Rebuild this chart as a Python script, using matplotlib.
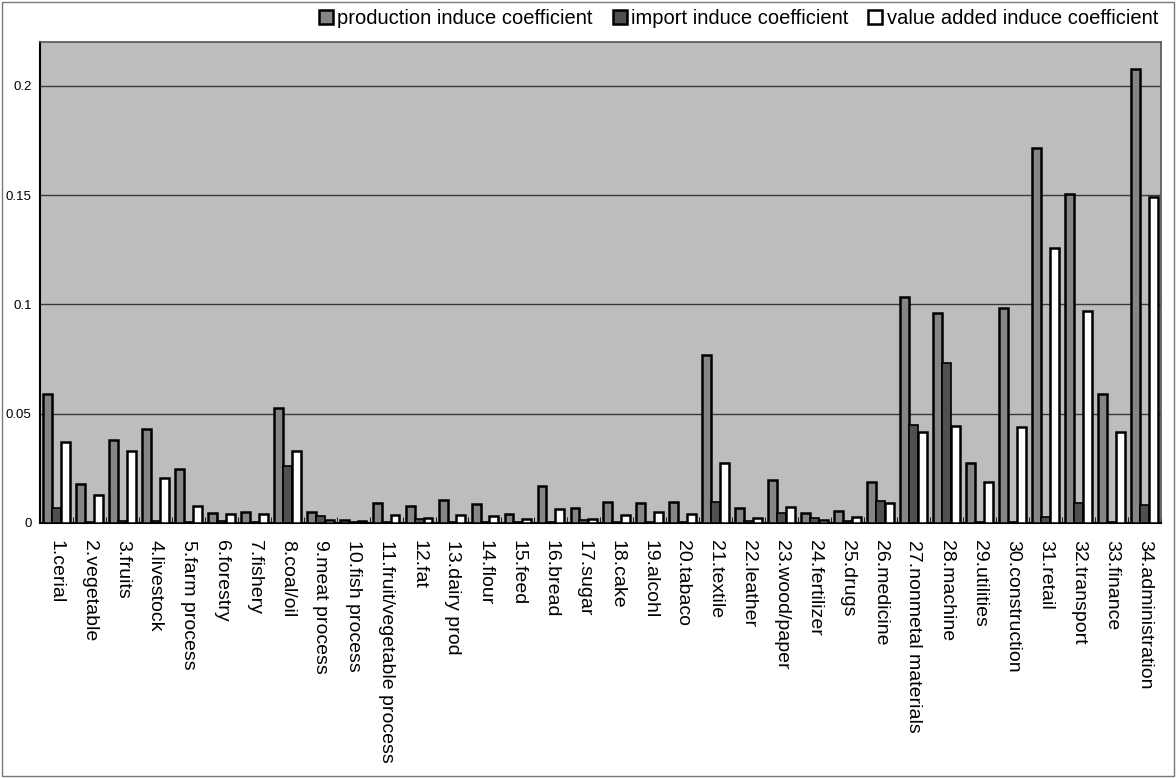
import numpy as np
import matplotlib
matplotlib.use("Agg")
import matplotlib.pyplot as plt
from matplotlib.patches import Rectangle, Patch

plt.rcParams['font.family'] = ['Liberation Sans', 'DejaVu Sans']

# industries and induce coefficients per sector
sectors = ["1.cerial", "2.vegetable", "3.fruits", "4.livestock", "5.farm process",
           "6.forestry", "7.fishery", "8.coal/oil", "9.meat process", "10.fish process",
           "11.fruit/vegetable process", "12.fat", "13.dairy prod", "14.flour", "15.feed",
           "16.bread", "17.sugar", "18.cake", "19.alcohl", "20.tabaco", "21.textile",
           "22.leather", "23.wood/paper", "24.fertilizer", "25.drugs", "26.medicine",
           "27.nonmetal materials", "28.machine", "29.utilities", "30.construction",
           "31.retail", "32.transport", "33.finance", "34.administration"]

production = [0.059, 0.018, 0.038, 0.043, 0.0247, 0.0047, 0.005, 0.0525, 0.005, 0.0012,
              0.009, 0.0079, 0.0105, 0.0087, 0.004, 0.0168, 0.007, 0.0095, 0.0091, 0.0096,
              0.0767, 0.0068, 0.0196, 0.0047, 0.0054, 0.0187, 0.1035, 0.096, 0.0273, 0.0982,
              0.1717, 0.1507, 0.059, 0.2075]
imports = [0.0068, 0.0003, 0.0008, 0.0008, 0.0004, 0.001, 0.0006, 0.026, 0.003, 0.0005,
           0.0005, 0.002, 0.0005, 0.0005, 0.0005, 0.0005, 0.0015, 0.0006, 0.0006, 0.0006,
           0.0095, 0.001, 0.0045, 0.0025, 0.001, 0.0101, 0.045, 0.073, 0.0004, 0.0004,
           0.0027, 0.0091, 0.0004, 0.0082]
value_added = [0.037, 0.013, 0.033, 0.0205, 0.0078, 0.0042, 0.004, 0.033, 0.0015, 0.0008,
               0.0037, 0.0022, 0.0037, 0.003, 0.0016, 0.0065, 0.002, 0.0037, 0.0048, 0.0042,
               0.0273, 0.0023, 0.0073, 0.0015, 0.0027, 0.009, 0.0415, 0.0443, 0.0188, 0.0438,
               0.1256, 0.0968, 0.0415, 0.1489]

yticks = [0, 0.05, 0.1, 0.15, 0.2]
ytick_labels = ["0", "0.05", "0.1", "0.15", "0.2"]

x = np.arange(len(sectors))
w = 0.27

fig = plt.figure(figsize=(11.76, 7.78), dpi=100)
ax = fig.add_axes([0.034, 0.3278, 0.953, 0.6182])
ax.set_facecolor('#bdbdbd')

ax.bar(x - w, production, w, color='#858585', edgecolor='black', linewidth=1.8, zorder=3)
ax.bar(x, imports, w, color='#505050', edgecolor='black', linewidth=1.2, zorder=3)
ax.bar(x + w, value_added, w, color='white', edgecolor='black', linewidth=1.8, zorder=3)

ax.set_xlim(-0.5, len(sectors) - 0.5)
ax.set_ylim(0, 0.22)
ax.set_yticks(yticks)
ax.set_yticklabels(ytick_labels, fontsize=9.5)
ax.tick_params(axis='y', length=0, pad=6)
ax.yaxis.grid(True, color='#3a3a3a', linewidth=1.0, zorder=1)
ax.set_axisbelow(True)

ax.set_xticks(x)
ax.set_xticklabels(sectors, rotation=-90, fontsize=14, va='top', ha='center')
ax.tick_params(axis='x', length=0, pad=12)
ax.set_xticks(np.arange(-0.5, len(sectors)), minor=True)
ax.tick_params(axis='x', which='minor', direction='in', length=4, color='black')

for side in ['top', 'right']:
    ax.spines[side].set_color('#555555')
    ax.spines[side].set_linewidth(1.2)
for side in ['left', 'bottom']:
    ax.spines[side].set_color('black')
    ax.spines[side].set_linewidth(1.5)

handles = [Patch(facecolor='#858585', edgecolor='black', linewidth=1.8),
           Patch(facecolor='#505050', edgecolor='black', linewidth=1.8),
           Patch(facecolor='white', edgecolor='black', linewidth=1.8)]
labels = ["production induce coefficient", "import induce coefficient",
          "value added induce coefficient"]
fig.legend(handles, labels, loc='upper right', bbox_to_anchor=(1.0, 1.012), ncol=3,
           frameon=False, fontsize=14.5, handlelength=0.7, handleheight=0.7,
           handletextpad=0.2, columnspacing=1.0)

# thin frame around the whole chart
fig.patches.append(Rectangle((0.002, 0.002), 0.996, 0.996, transform=fig.transFigure,
                             fill=False, edgecolor='#777777', linewidth=1.0))

fig.savefig('out.png', dpi=100)
